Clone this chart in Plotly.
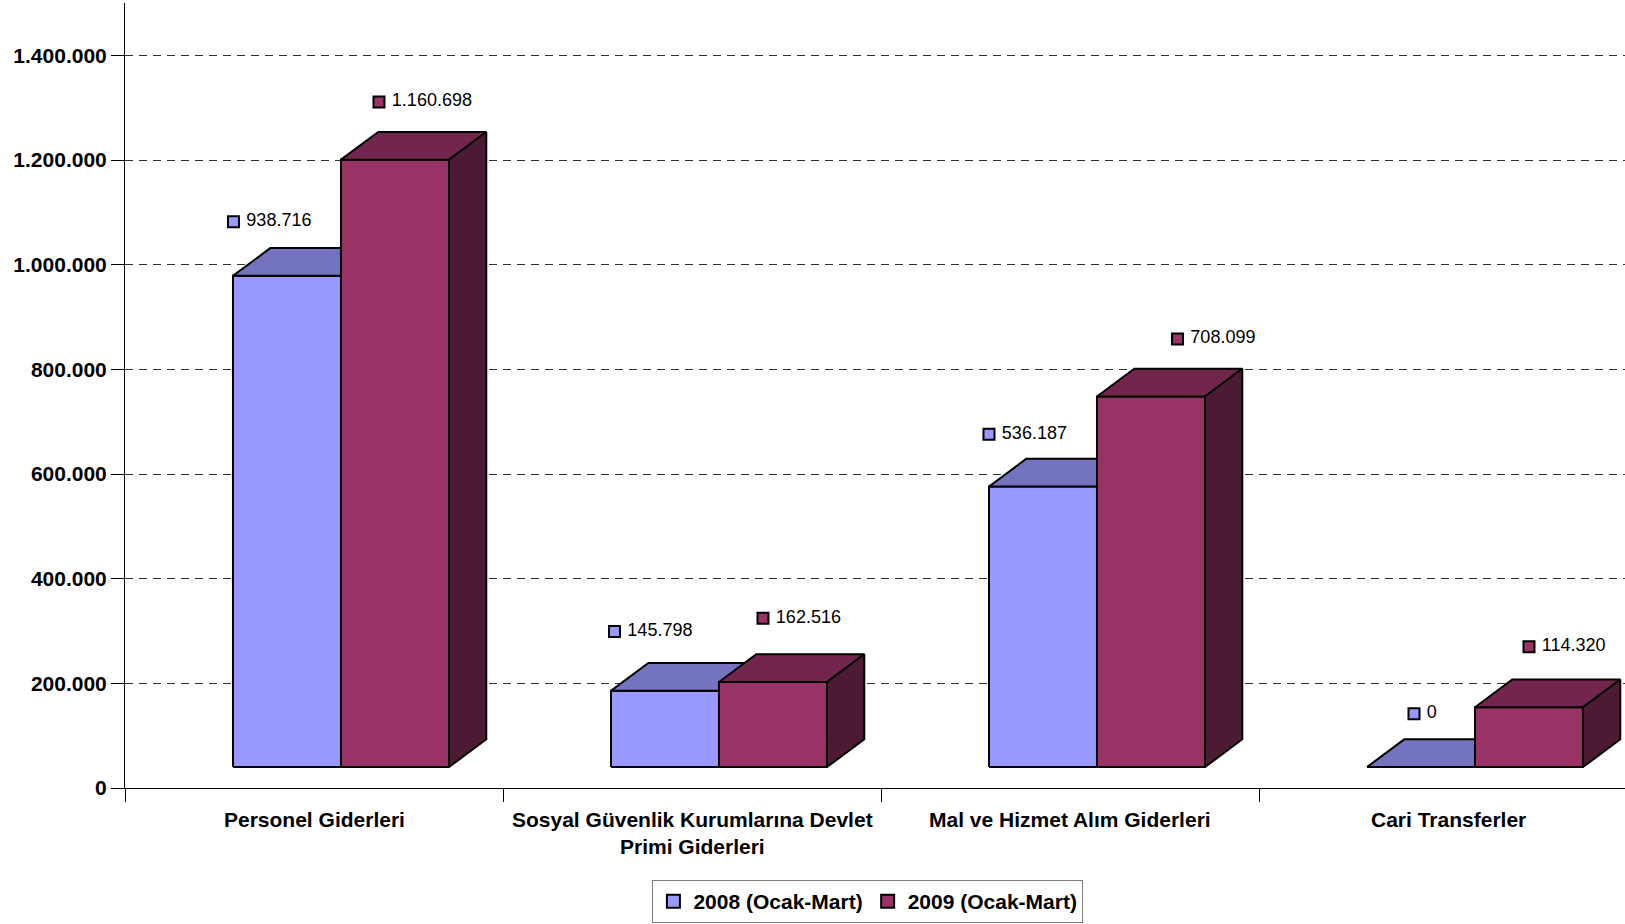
import plotly.graph_objects as go

# ---------------- data ----------------
categories = [
    "Personel Giderleri",
    "Sosyal Güvenlik Kurumlarına Devlet<br>Primi Giderleri",
    "Mal ve Hizmet Alım Giderleri",
    "Cari Transferler",
]
series_names = ["2008 (Ocak-Mart)", "2009 (Ocak-Mart)"]
values_2008 = [938716, 145798, 536187, 0]
values_2009 = [1160698, 162516, 708099, 114320]
y_tick_values = [0, 200000, 400000, 600000, 800000, 1000000, 1200000, 1400000]

# ---------------- layout / geometry constants ----------------
FONT = "Liberation Sans, Arial, sans-serif"
W, H = 1625, 924
M_L, M_R, M_T, M_B = 125, 0, 3, 136
PX_PER_X = 378.0
X_MIN = -0.5
X_MAX = X_MIN + (W - M_L - M_R) / PX_PER_X
Y_MAX = 1500000
PX_PER_Y = (H - M_T - M_B) / Y_MAX

BAR_W = 108 / PX_PER_X
BAR_LEFT = [-0.2143, 0.0714]          # left edge of each series inside a category
BASE = 40000                           # 3D floor offset
DEPTH_X = 37.3 / PX_PER_X
DEPTH_Y = 27.7 / PX_PER_Y

front_colors = ["#9999FF", "#993366"]
top_colors = ["#7373BF", "#73264D"]
side_colors = ["#4D4D80", "#4D1A33"]
EDGE = dict(color="black", width=2)

# label anchor offsets (px) relative to front-top-left corner of each bar
LABEL_DX = [[0.5, 3.5, 0, 47], [38, 44, 80.5, 54]]
LABEL_DY = [[-54, -59.3, -52.3, -53.4], [-57.7, -63.7, -57.5, -60.6]]

LEGEND_TOP_PX = 880


def fmt(v):
    return f"{v:,}".replace(",", ".")


def faces(values, s):
    fx, fy, tx, ty, sx, sy = [], [], [], [], [], []
    for i, v in enumerate(values):
        x0 = i + BAR_LEFT[s]
        x1 = x0 + BAR_W
        y0 = BASE
        y1 = BASE + v
        fx += [x0, x1, x1, x0, x0, None]
        fy += [y0, y0, y1, y1, y0, None]
        tx += [x0, x0 + DEPTH_X, x1 + DEPTH_X, x1, x0, None]
        ty += [y1, y1 + DEPTH_Y, y1 + DEPTH_Y, y1, y1, None]
        sx += [x1, x1 + DEPTH_X, x1 + DEPTH_X, x1, x1, None]
        sy += [y0, y0 + DEPTH_Y, y1 + DEPTH_Y, y1, y0, None]
    return (fx, fy), (tx, ty), (sx, sy)


fig = go.Figure()

all_values = [values_2008, values_2009]
for s, vals in enumerate(all_values):
    (fx, fy), (tx, ty), (sx, sy) = faces(vals, s)
    for (xx, yy), col in (((fx, fy), front_colors[s]), ((tx, ty), top_colors[s]), ((sx, sy), side_colors[s])):
        fig.add_trace(go.Scatter(
            x=xx, y=yy, mode="lines", fill="toself", fillcolor=col,
            line=EDGE, hoverinfo="skip", showlegend=False, cliponaxis=False,
        ))

# data labels
for s, vals in enumerate(all_values):
    lx = [i + BAR_LEFT[s] + LABEL_DX[s][i] / PX_PER_X for i in range(len(vals))]
    ly = [BASE + v - LABEL_DY[s][i] / PX_PER_Y for i, v in enumerate(vals)]
    fig.add_trace(go.Scatter(
        x=lx, y=ly, mode="markers+text",
        text=[" " + fmt(v) for v in vals], textposition="middle right",
        textfont=dict(family=FONT, size=18, color="black"),
        marker=dict(symbol="square", size=11, color=front_colors[s],
                    line=dict(color="black", width=2)),
        hoverinfo="skip", showlegend=False, cliponaxis=False,
    ))

# legend entries
for s, name in enumerate(series_names):
    fig.add_trace(go.Scatter(
        x=[None], y=[None], mode="markers", name=name,
        marker=dict(symbol="square", size=13, color=front_colors[s],
                    line=dict(color="black", width=2)),
    ))

# category labels
for i, c in enumerate(categories):
    fig.add_annotation(
        x=i, y=0, xref="x", yref="paper", yanchor="top", yshift=-18,
        text=c, showarrow=False, align="center",
        font=dict(family=FONT, size=21, color="black", weight="bold"),
    )

fig.update_layout(
    width=W, height=H,
    margin=dict(l=M_L, r=M_R, t=M_T, b=M_B, pad=0),
    paper_bgcolor="white", plot_bgcolor="white",
    font=dict(family=FONT, color="black"),
    showlegend=True,
    legend=dict(
        orientation="h", x=(867.9 - M_L) / (W - M_L - M_R), xanchor="center",
        y=-(LEGEND_TOP_PX - (H - M_B)) / (H - M_T - M_B), yanchor="top",
        bordercolor="#7f7f7f", borderwidth=1, bgcolor="white",
        font=dict(family=FONT, size=21, color="black", weight="bold"),
        itemwidth=30,
    ),
    xaxis=dict(
        range=[X_MIN, X_MAX], showgrid=False, zeroline=False,
        tickvals=[i - 0.5 for i in range(len(categories) + 1)],
        ticktext=["" for _ in range(len(categories) + 1)],
        ticks="outside", ticklen=13, tickcolor="black", tickwidth=1,
        showline=True, linecolor="black", linewidth=1,
        fixedrange=True,
    ),
    yaxis=dict(
        range=[0, Y_MAX], zeroline=False,
        tickvals=y_tick_values, ticktext=[fmt(v) for v in y_tick_values],
        ticks="outside", ticklen=13, tickcolor="black", tickwidth=1,
        showline=True, linecolor="black", linewidth=1,
        showgrid=True, gridcolor="#333333", gridwidth=1, griddash="8px,6px",
        tickfont=dict(family=FONT, size=21, color="black", weight="bold"),
        fixedrange=True,
    ),
)

fig.write_html("out.html", config={"displayModeBar": False},
               post_script="document.body.style.margin='0';")
